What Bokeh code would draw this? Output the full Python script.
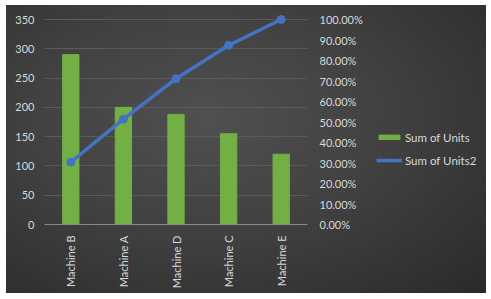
from math import pi
from bokeh.plotting import figure
from bokeh.layouts import row
from bokeh.models import (LinearAxis, Range1d, FixedTicker, NumeralTickFormatter,
                          Legend, LegendItem, InlineStyleSheet)
from bokeh.embed import file_html
from bokeh.resources import INLINE

machines = ["Machine B", "Machine A", "Machine D", "Machine C", "Machine E"]
units = [290, 200, 188, 155, 120]
cum_pct = [0.304, 0.514, 0.711, 0.874, 1.0]
left_ticks = [0, 50, 100, 150, 200, 250, 300, 350]
right_ticks = [0, 0.1, 0.2, 0.3, 0.4, 0.5, 0.6, 0.7, 0.8, 0.9, 1.0]

FONT = "Lato"
TXT = "#d9d9d9"
BAR = "#72b043"
LINE = "#4472C4"

# frame extends 6px above the 350 line so the top marker is not clipped
EXT = 6 / 205.0

p = figure(x_range=machines, y_range=Range1d(0, 350 * (1 + EXT)), width=359, height=288,
           output_backend="svg", toolbar_location=None,
           min_border_left=38, min_border_right=57, min_border_top=8, min_border_bottom=69)
p.background_fill_color = None
p.border_fill_color = None
p.outline_line_color = None

p.extra_y_ranges = {"pct": Range1d(0, 1 + EXT)}

bars = p.vbar(x=machines, top=units, width=0.31, color=BAR)
ln = p.line(x=machines, y=cum_pct, y_range_name="pct", line_color=LINE, line_width=3.5)
sc = p.scatter(x=machines, y=cum_pct, y_range_name="pct", size=8, color=LINE)

p.xgrid.grid_line_color = None
p.ygrid.grid_line_color = "#5a5a5a"
p.ygrid.ticker = FixedTicker(ticks=left_ticks)

ya = p.yaxis[0]
ya.ticker = FixedTicker(ticks=left_ticks)
ya.axis_line_color = None
ya.major_tick_line_color = None
ya.minor_tick_line_color = None
ya.major_label_standoff = 4
ya.major_label_text_color = TXT
ya.major_label_text_font = FONT
ya.major_label_text_font_size = "11px"

ra = LinearAxis(y_range_name="pct", ticker=FixedTicker(ticks=right_ticks),
                formatter=NumeralTickFormatter(format="0.00%"))
ra.axis_line_color = None
ra.major_tick_line_color = None
ra.minor_tick_line_color = None
ra.major_label_standoff = 6
ra.major_label_text_color = TXT
ra.major_label_text_font = FONT
ra.major_label_text_font_size = "11px"
p.add_layout(ra, "right")

xa = p.xaxis[0]
xa.axis_line_color = "#8a8a8a"
xa.major_tick_line_color = None
xa.minor_tick_line_color = None
xa.major_label_orientation = pi / 2
xa.major_label_standoff = 5
xa.major_label_text_color = TXT
xa.major_label_text_font = FONT
xa.major_label_text_font_size = "11px"

# legend panel: same series drawn far outside its ranges, only the legend shows
lg = figure(width=121, height=288, x_range=Range1d(-2, -1), y_range=Range1d(-2, -1),
            output_backend="svg", toolbar_location=None,
            x_axis_location=None, y_axis_location=None,
            min_border_left=0, min_border_right=0, min_border_top=8, min_border_bottom=69)
lg.background_fill_color = None
lg.border_fill_color = None
lg.outline_line_color = None
lg.grid.visible = False
lb = lg.vbar(x=units, top=units, bottom=units, width=0.31, color=BAR)
ll = lg.line(x=units, y=units, line_color=LINE, line_width=3.5)
ls = lg.scatter(x=units, y=units, size=8, color=LINE)

legend = Legend(items=[LegendItem(label="Sum of Units", renderers=[lb]),
                       LegendItem(label="Sum of Units2", renderers=[ll, ls])],
                location=(11, 57), padding=0, margin=0, spacing=9,
                glyph_width=26, glyph_height=6, label_height=14, label_standoff=3,
                background_fill_alpha=0, border_line_color=None,
                label_text_color=TXT, label_text_font=FONT, label_text_font_size="11.5px")
lg.add_layout(legend, "center")

layout = row(p, lg)
layout.margin = (5, 5, 6, 6)
layout.stylesheets = [InlineStyleSheet(css=":host { background: radial-gradient(ellipse at 42% 40%, #505050 0%, #414141 45%, #2a2a2a 100%); }")]

open("out.html", "w").write(file_html(layout, INLINE))
